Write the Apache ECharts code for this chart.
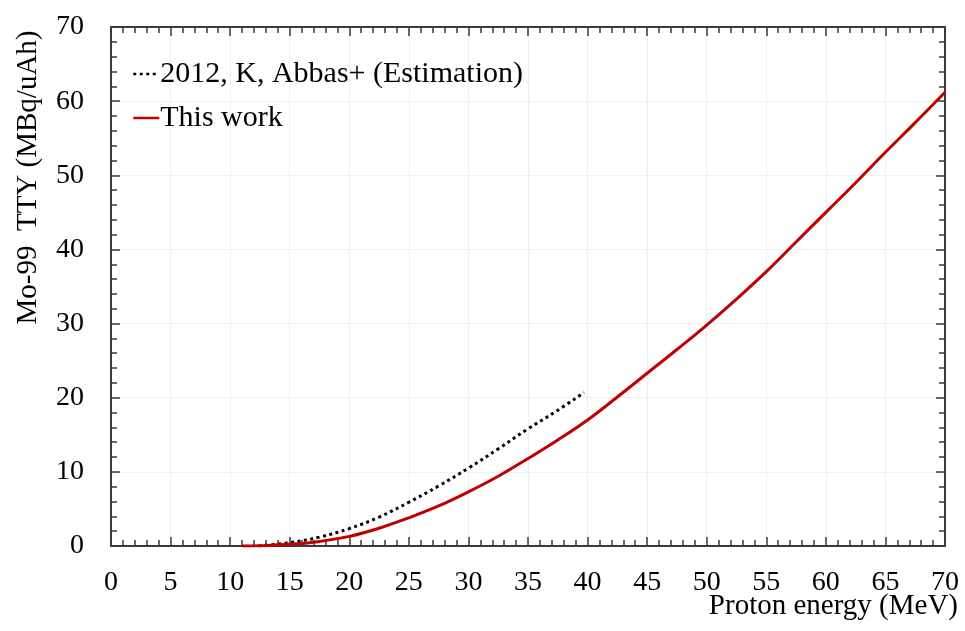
<!DOCTYPE html>
<html>
<head>
<meta charset="utf-8">
<script src="https://cdn.jsdelivr.net/npm/echarts@6/dist/echarts.min.js"></script>
<style>html,body{margin:0;padding:0;background:#fff}#c{width:965px;height:631px}</style>
</head>
<body>
<div id="c"></div>
<script>
const xTicks = [0, 5, 10, 15, 20, 25, 30, 35, 40, 45, 50, 55, 60, 65, 70];
const yTicks = [0, 10, 20, 30, 40, 50, 60, 70];
const seriesNames = ['2012, K, Abbas+ (Estimation)', 'This work'];
const abbasX = [12.4, 15, 17.5, 20, 22.5, 25, 27.5, 30, 32.5, 35, 37.5, 39.7];
const abbasY = [0, 0.45, 1.2, 2.35, 3.9, 5.9, 8.1, 10.5, 13.1, 15.8, 18.3, 20.7];
const workX = [11, 12.5, 15, 17.5, 20, 22.5, 25, 27.5, 30, 32.5, 35, 37.5, 40, 42.5, 45, 47.5, 50, 52.5, 55, 57.5, 60, 62.5, 65, 67.5, 70];
const workY = [0, 0.05, 0.22, 0.62, 1.3, 2.4, 3.8, 5.4, 7.3, 9.4, 11.8, 14.3, 17.0, 20.1, 23.3, 26.5, 29.8, 33.3, 37.0, 41.0, 45.0, 49.0, 53.1, 57.1, 61.2];

const zip = (xs, ys) => xs.map((x, i) => [x, ys[i]]);
const FONT = 'Liberation Serif';
const AX = '#3a3a3a';

function xAxisCfg(pos, labels) {
  return {
    type: 'value', position: pos, min: xTicks[0], max: xTicks[xTicks.length - 1], interval: 5,
    axisLine: { show: true, onZero: false, lineStyle: { color: AX, width: 2 } },
    axisTick: { show: true, inside: true, length: 9, lineStyle: { color: AX, width: 1.5 } },
    minorTick: { show: true, splitNumber: 5, length: 6, lineStyle: { color: AX, width: 1.5 } },
    splitLine: { show: labels, lineStyle: { color: '#efefef', width: 1 } },
    axisLabel: { show: labels, fontFamily: FONT, fontSize: 28, color: '#000', margin: 23 },
    name: labels ? 'Proton energy (MeV)' : '',
    nameLocation: 'end', nameGap: 0, nameMoveOverlap: false,
    nameTextStyle: { fontFamily: FONT, fontSize: 29, color: '#000', align: 'right', verticalAlign: 'top', padding: [46, -13, 0, 0] }
  };
}
function yAxisCfg(pos, labels) {
  return {
    type: 'value', position: pos, min: yTicks[0], max: yTicks[yTicks.length - 1], interval: 10,
    axisLine: { show: true, onZero: false, lineStyle: { color: AX, width: 2 } },
    axisTick: { show: true, inside: true, length: 9, lineStyle: { color: AX, width: 1.5 } },
    minorTick: { show: true, splitNumber: 5, length: 6, lineStyle: { color: AX, width: 1.5 } },
    splitLine: { show: labels, lineStyle: { color: '#efefef', width: 1 } },
    axisLabel: { show: labels, fontFamily: FONT, fontSize: 28, color: '#000', margin: 27 },
    name: labels ? 'Mo-99  TTY (MBq/uAh)' : '',
    nameLocation: 'middle', nameRotate: 90, nameGap: 68, nameMoveOverlap: false,
    nameTextStyle: { fontFamily: FONT, fontSize: 29, color: '#000', padding: [0, 0, 0, 218] }
  };
}

const chart = echarts.init(document.getElementById('c'), null, { renderer: 'canvas' });
chart.setOption({
  backgroundColor: '#fff',
  animation: false,
  grid: { left: 111, right: 20, top: 27, bottom: 85, containLabel: false, outerBoundsMode: 'none' },
  legend: {
    orient: 'vertical', left: 127, top: 54, itemWidth: 26, itemHeight: 14, itemGap: 14,
    itemStyle: { opacity: 0 },
    lineStyle: { width: 2.5 },
    textStyle: { fontFamily: FONT, fontSize: 30, color: '#000', padding: [0, 0, 0, -4] },
    data: seriesNames
  },
  xAxis: [xAxisCfg('bottom', true), xAxisCfg('top', false)],
  yAxis: [yAxisCfg('left', true), yAxisCfg('right', false)],
  series: [
    {
      name: seriesNames[0], type: 'line', xAxisIndex: 0, yAxisIndex: 0,
      data: zip(abbasX, abbasY), smooth: 0.4, symbol: 'none',
      lineStyle: { color: '#000', width: 3, type: [3, 3.5], cap: 'butt' },
      itemStyle: { color: '#000' }
    },
    {
      name: seriesNames[1], type: 'line', xAxisIndex: 0, yAxisIndex: 0,
      data: zip(workX, workY), smooth: 0.4, symbol: 'none',
      lineStyle: { color: '#c00000', width: 3 },
      itemStyle: { color: '#c00000' }
    }
  ]
});
</script>
</body>
</html>
